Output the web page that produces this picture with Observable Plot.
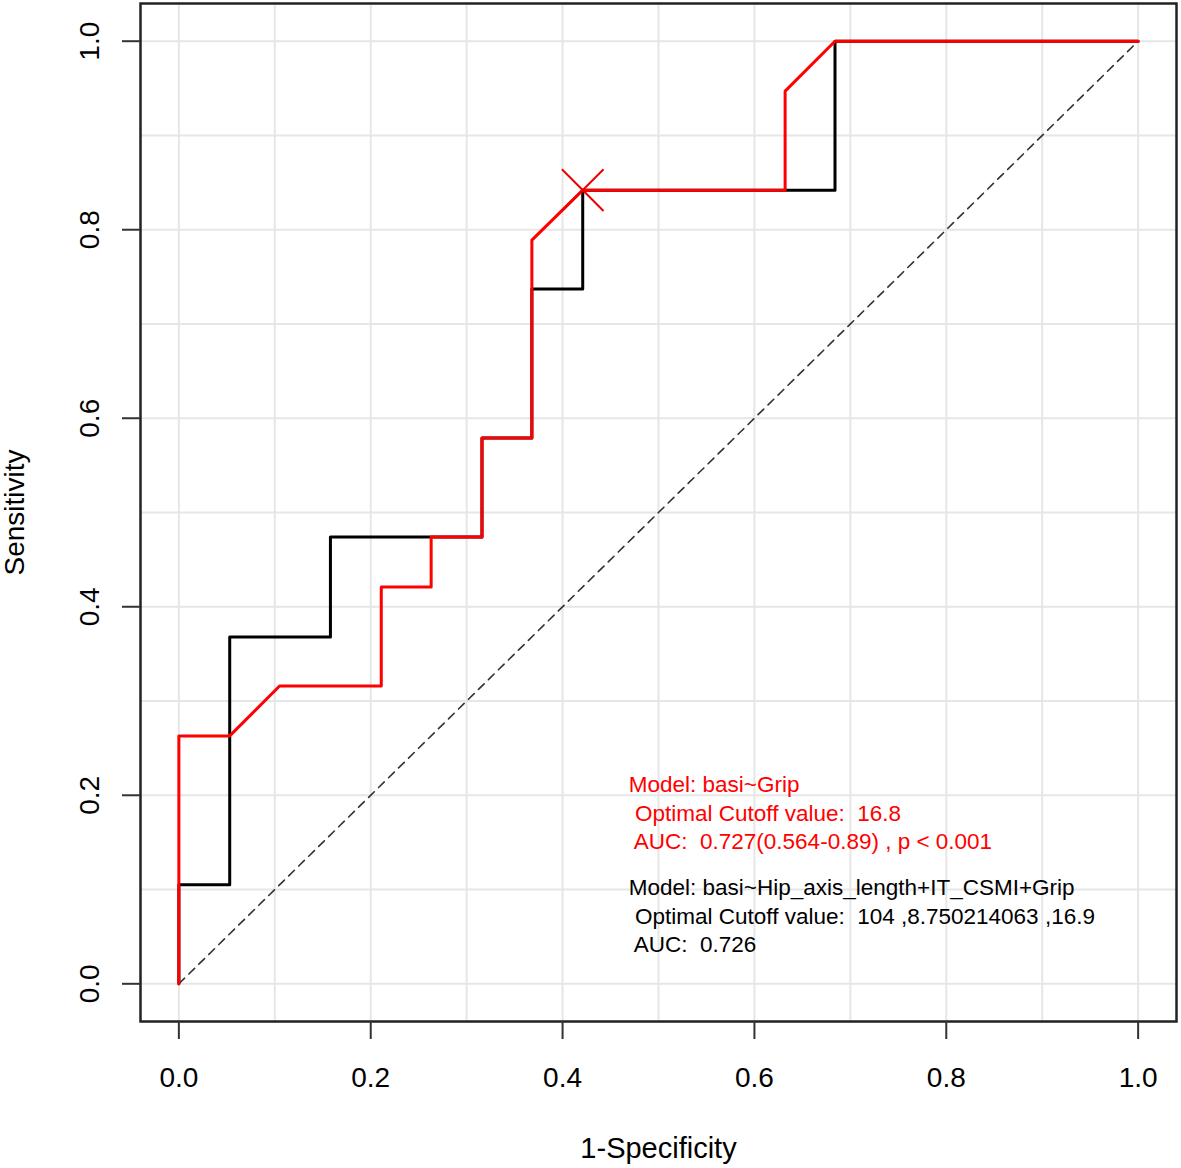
<!DOCTYPE html>
<html>
<head>
<meta charset="utf-8">
<script src="https://cdn.jsdelivr.net/npm/d3@7"></script>
<script src="https://cdn.jsdelivr.net/npm/@observablehq/plot@0.6"></script>
<style>
  html, body { margin: 0; padding: 0; background: #fff; }
  svg text { white-space: pre; }
</style>
</head>
<body>
<div id="chart"></div>
<script>
// ---- Data ----
const blackFPR = [0, 0, 0.053, 0.053, 0.158, 0.158, 0.316, 0.316, 0.368, 0.368, 0.421, 0.421, 0.684, 0.684, 1];
const blackTPR = [0, 0.105, 0.105, 0.368, 0.368, 0.474, 0.474, 0.579, 0.579, 0.737, 0.737, 0.842, 0.842, 1, 1];

const redFPR = [0, 0, 0.053, 0.105, 0.211, 0.211, 0.263, 0.263, 0.316, 0.316, 0.368, 0.368, 0.421, 0.632, 0.632, 0.684, 1];
const redTPR = [0, 0.263, 0.263, 0.316, 0.316, 0.421, 0.421, 0.474, 0.474, 0.579, 0.579, 0.789, 0.842, 0.842, 0.947, 1, 1];

const optimalFPR = [0.421];
const optimalTPR = [0.842];

const refFPR = [0, 1];
const refTPR = [0, 1];

const axisTicks = [0, 0.2, 0.4, 0.6, 0.8, 1.0];
const gridTicks = [0, 0.1, 0.2, 0.3, 0.4, 0.5, 0.6, 0.7, 0.8, 0.9, 1.0];

const redLines = [
  "Model: basi~Grip",
  " Optimal Cutoff value:  16.8",
  " AUC:  0.727(0.564-0.89) , p < 0.001"
];
const blackLines = [
  "Model: basi~Hip_axis_length+IT_CSMI+Grip",
  " Optimal Cutoff value:  104 ,8.750214063 ,16.9",
  " AUC:  0.726"
];
const xTitle = "1-Specificity";
const yTitle = "Sensitivity";

// ---- Build tables ----
const toPts = (xs, ys) => xs.map((x, i) => ({x, y: ys[i]}));
const blackPts = toPts(blackFPR, blackTPR);
const redPts = toPts(redFPR, redTPR);
const optPts = toPts(optimalFPR, optimalTPR);
const refPts = toPts(refFPR, refTPR);

const FONT = "Liberation Sans, Arial, Helvetica, sans-serif";
const fmt = d3.format(".1f");

const chart = Plot.plot({
  width: 1181,
  height: 1168,
  marginLeft: 140,
  marginRight: 5,
  marginTop: 3,
  marginBottom: 147,
  style: {fontFamily: FONT, background: "#fff", color: "#000"},
  x: {domain: [-0.04, 1.04]},
  y: {domain: [-0.04, 1.04]},
  marks: [
    Plot.gridX(gridTicks, {stroke: "#e6e6e6", strokeOpacity: 1, strokeWidth: 2}),
    Plot.gridY(gridTicks, {stroke: "#e6e6e6", strokeOpacity: 1, strokeWidth: 2}),
    Plot.line(refPts, {x: "x", y: "y", stroke: "#333", strokeWidth: 1.6, strokeDasharray: "8,6"}),
    Plot.line(blackPts, {x: "x", y: "y", stroke: "#000", strokeWidth: 3, curve: "linear", strokeLinejoin: "round"}),
    Plot.line(redPts, {x: "x", y: "y", stroke: "#ff0000", strokeWidth: 3, curve: "linear", strokeLinejoin: "round"}),
    Plot.dot(optPts, {x: "x", y: "y", symbol: "times", r: 19, stroke: "#ee0000", strokeWidth: 2}),
    Plot.frame({stroke: "#222", strokeWidth: 2.5}),
    Plot.axisX(axisTicks, {tickSize: 18, tickPadding: 28, fontSize: 28, tickFormat: fmt, stroke: "#333", strokeWidth: 2, label: null, fontFamily: FONT, fill: "#000"}),
    Plot.axisY(axisTicks, {tickSize: 18, tickPadding: 24, tickRotate: -90, fontSize: 28, tickFormat: fmt, stroke: "#333", strokeWidth: 2, label: null, fontFamily: FONT, fill: "#000"}),
    Plot.text([redLines.join("\n")], {x: 0.469, y: 0.225, textAnchor: "start", lineAnchor: "top", lineHeight: 1.27, fontSize: 22.5, fill: "#ff0000", fontFamily: FONT}),
    Plot.text([blackLines.join("\n")], {x: 0.469, y: 0.1157, textAnchor: "start", lineAnchor: "top", lineHeight: 1.27, fontSize: 22.5, fill: "#000", fontFamily: FONT}),
    Plot.text([xTitle], {frameAnchor: "bottom", dy: 136, fontSize: 29, fill: "#000", fontFamily: FONT}),
    Plot.text([yTitle], {frameAnchor: "left", dx: -125, rotate: -90, textAnchor: "middle", fontSize: 28, fill: "#000", fontFamily: FONT})
  ]
});
document.getElementById("chart").appendChild(chart);
</script>
</body>
</html>
